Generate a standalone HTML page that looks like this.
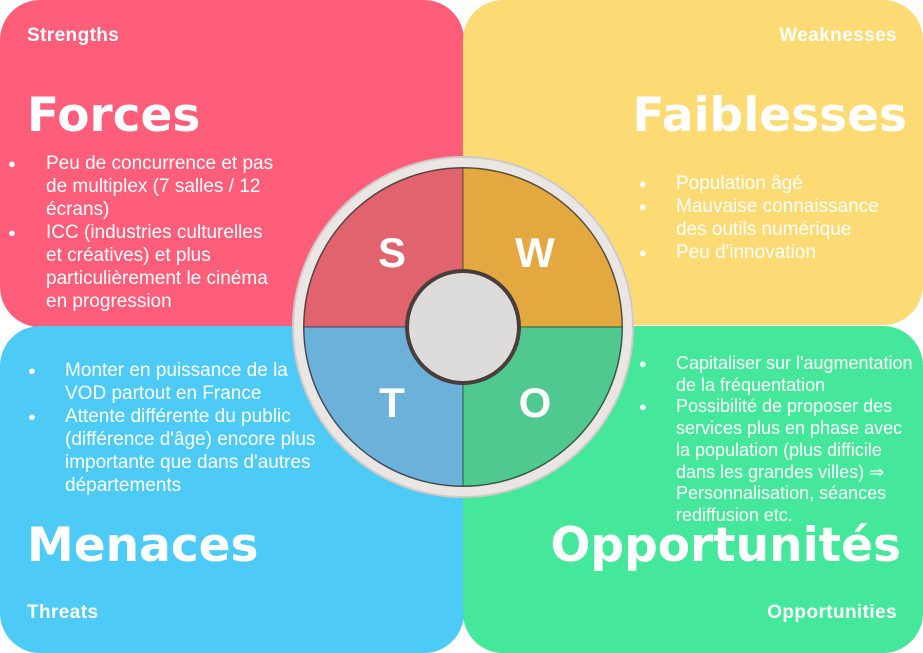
<!DOCTYPE html>
<html><head><meta charset="utf-8"><style>
body{margin:0;width:923px;height:653px;background:#fff;position:relative;overflow:hidden;font-family:"Liberation Sans",sans-serif;color:#fff}
.card{position:absolute;border-radius:40px}
.t{position:absolute;white-space:nowrap}
.small{font-weight:bold;font-size:19px;letter-spacing:0.4px}
.big{font-weight:bold;font-size:47px;font-family:"DejaVu Sans","Liberation Sans",sans-serif}
ul{position:absolute;margin:0;padding:0;list-style:none;font-size:19px;line-height:23px}
li{position:relative;white-space:nowrap}
li span.b{position:absolute;font-size:13px}
</style></head><body>
<div class="card" style="left:0;top:0;width:464px;height:327px;background:#FE5E7A"></div>
<div class="card" style="left:463px;top:0;width:460px;height:325px;background:#FCDB74"></div>
<div class="card" style="left:0;top:326px;width:464px;height:327px;background:#4DCBF6"></div>
<div class="card" style="left:463px;top:326px;width:460px;height:327px;background:#45E89A"></div>

<div class="t small" style="left:27px;top:25px">Strengths</div>
<div class="t big" style="left:27px;top:88px">Forces</div>
<ul style="left:46px;top:152px">
<li><span class="b" style="left:-38px">●</span>Peu de concurrence et pas<br>de multiplex (7 salles / 12<br>écrans)</li>
<li><span class="b" style="left:-38px">●</span>ICC (industries culturelles<br>et créatives) et plus<br>particulièrement le cinéma<br>en progression</li>
</ul>

<div class="t small" style="right:26px;top:25px">Weaknesses</div>
<div class="t big" style="right:16px;top:88px">Faiblesses</div>
<ul style="left:676px;top:172px">
<li><span class="b" style="left:-37px">●</span>Population âgé</li>
<li><span class="b" style="left:-37px">●</span>Mauvaise connaissance<br>des outils numérique</li>
<li><span class="b" style="left:-37px">●</span>Peu d'innovation</li>
</ul>

<ul style="left:65px;top:359px">
<li><span class="b" style="left:-37px">●</span>Monter en puissance de la<br>VOD partout en France</li>
<li><span class="b" style="left:-37px">●</span>Attente différente du public<br>(différence d'âge) encore plus<br>importante que dans d'autres<br>départements</li>
</ul>
<div class="t big" style="left:27px;top:518px">Menaces</div>
<div class="t small" style="left:27px;top:602px">Threats</div>

<ul style="left:676px;top:353px;line-height:21.7px;font-size:18px">
<li><span class="b" style="left:-37px">●</span>Capitaliser sur l'augmentation<br>de la fréquentation</li>
<li><span class="b" style="left:-37px">●</span>Possibilité de proposer des<br>services plus en phase avec<br>la population (plus difficile<br>dans les grandes villes) ⇒<br>Personnalisation, séances<br>rediffusion etc.</li>
</ul>
<div class="t big" style="right:22px;top:518px">Opportunités</div>
<div class="t small" style="right:26px;top:602px">Opportunities</div>

<svg style="position:absolute;left:0;top:0" width="923" height="653">
<circle cx="463" cy="327" r="170" fill="#e9e6e4" stroke="#cfcac7" stroke-width="2"/>
<circle cx="463" cy="327" r="160" fill="#555"/>
<path d="M463,327 L304,327 A159,159 0 0 1 463,168 Z" fill="#E0636E" stroke="#5a3a3a" stroke-width="1"/>
<path d="M463,327 L463,168 A159,159 0 0 1 622,327 Z" fill="#E4A841" stroke="#5a4a2a" stroke-width="1"/>
<path d="M463,327 L304,327 A159,159 0 0 0 463,486 Z" fill="#6CB1D9" stroke="#3a4a5a" stroke-width="1"/>
<path d="M463,327 L622,327 A159,159 0 0 1 463,486 Z" fill="#4FC98F" stroke="#2a5a3a" stroke-width="1"/>
<circle cx="463" cy="327" r="58" fill="#4a3e3c"/>
<circle cx="463" cy="327" r="54" fill="#dedcdb"/>
<g font-family="Liberation Sans, sans-serif" font-weight="bold" font-size="42" fill="#fff" text-anchor="middle">
<text x="392" y="267">S</text>
<text x="535" y="267">W</text>
<text x="392" y="417">T</text>
<text x="535" y="417">O</text>
</g>
</svg>
</body></html>
